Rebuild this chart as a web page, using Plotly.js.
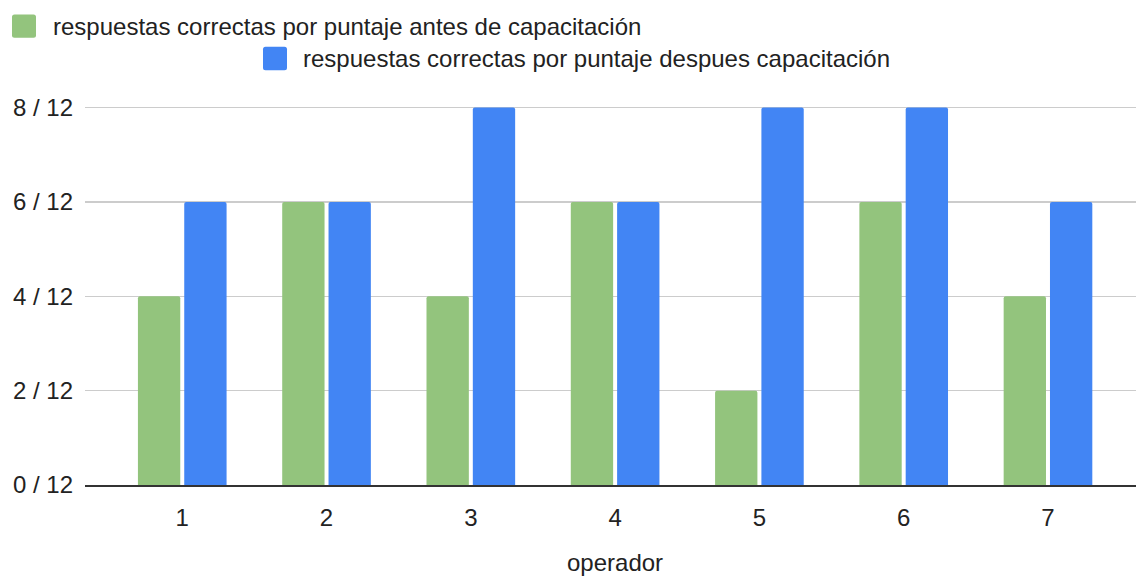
<!DOCTYPE html>
<html>
<head>
<meta charset="utf-8">
<script src="https://cdn.plot.ly/plotly-3.0.1.min.js"></script>
<style>
  html, body { margin: 0; padding: 0; background: #ffffff; }
  #chart { width: 1136px; height: 578px; }
</style>
</head>
<body>
<div id="chart"></div>
<script>
// Operators and their scores (out of 12) before and after the training
const operadores = ['1', '2', '3', '4', '5', '6', '7'];
const antes = [4, 6, 4, 6, 2, 6, 4];
const despues = [6, 6, 8, 6, 8, 8, 6];

const serieAntes = 'respuestas correctas por puntaje antes de capacitación';
const serieDespues = 'respuestas correctas por puntaje despues capacitación';
const tituloX = 'operador';

const yTickVals = [0, 2, 4, 6, 8];
const yTickText = ['0 / 12', '2 / 12', '4 / 12', '6 / 12', '8 / 12'];

const colorAntes = '#93c47d';
const colorDespues = '#4285f4';
const textColor = '#222222';
const FONT = '"Liberation Sans", Arial, Helvetica, sans-serif';

// plot area in page pixels
const W = 1136, H = 578;
const L = 85, R = 1136, T = 84.3, B = 484.7;
const px = x => (x - L) / (R - L);
const py = y => (B - y) / (B - T);

// rounded legend swatch as a paper-space path
function swatch(x0, y0, x1, y1, r, color) {
  const X = v => px(v).toFixed(5), Y = v => py(v).toFixed(5);
  const path = [
    'M', X(x0 + r), Y(y0),
    'L', X(x1 - r), Y(y0),
    'Q', X(x1), Y(y0), X(x1), Y(y0 + r),
    'L', X(x1), Y(y1 - r),
    'Q', X(x1), Y(y1), X(x1 - r), Y(y1),
    'L', X(x0 + r), Y(y1),
    'Q', X(x0), Y(y1), X(x0), Y(y1 - r),
    'L', X(x0), Y(y0 + r),
    'Q', X(x0), Y(y0), X(x0 + r), Y(y0), 'Z'
  ].join(' ');
  return {
    type: 'path', xref: 'paper', yref: 'paper', path: path,
    fillcolor: color, line: { width: 0 }, layer: 'above'
  };
}

function legendLabel(text, x, yMid) {
  return {
    xref: 'paper', yref: 'paper', x: px(x), y: py(yMid),
    xanchor: 'left', yanchor: 'middle', showarrow: false,
    text: text, borderpad: 0,
    font: { family: FONT, size: 24, color: textColor }
  };
}

const traces = [
  {
    type: 'bar', name: serieAntes, x: operadores, y: antes,
    marker: { color: colorAntes, cornerradius: 2, line: { width: 0 } },
    hoverinfo: 'x+y'
  },
  {
    type: 'bar', name: serieDespues, x: operadores, y: despues,
    marker: { color: colorDespues, cornerradius: 2, line: { width: 0 } },
    hoverinfo: 'x+y'
  }
];

const layout = {
  width: W, height: H,
  margin: { l: L, r: W - R, t: T, b: H - B, pad: 0 },
  paper_bgcolor: '#ffffff', plot_bgcolor: '#ffffff',
  font: { family: FONT, size: 24, color: textColor },
  showlegend: false,
  barmode: 'group',
  bargap: 0.358,
  bargroupgap: 0.086,
  xaxis: {
    type: 'category',
    range: [-0.674, 6.61],
    showgrid: false,
    showline: true, linecolor: '#333333', linewidth: 2,
    ticks: '', ticklabelstandoff: 10,
    tickfont: { family: FONT, size: 24, color: textColor },
    fixedrange: true
  },
  yaxis: {
    range: [0, 8.5],
    tickvals: yTickVals, ticktext: yTickText,
    showgrid: true, gridcolor: '#cccccc', gridwidth: 1.5,
    zeroline: false, showline: false,
    ticks: '', ticklabelstandoff: 11,
    tickfont: { family: FONT, size: 24, color: textColor },
    fixedrange: true
  },
  shapes: [
    swatch(12, 15, 36, 38, 2.5, colorAntes),
    swatch(263, 47, 287, 70.5, 2.5, colorDespues)
  ],
  annotations: [
    legendLabel(serieAntes, 52, 26.5),
    legendLabel(serieDespues, 302, 58.7),
    // x-axis title, centred under the middle operator (category index) near the bottom edge
    {
      xref: 'x', yref: 'paper', x: (operadores.length - 1) / 2, y: py(562),
      xanchor: 'center', yanchor: 'middle', showarrow: false,
      text: tituloX, borderpad: 0,
      font: { family: FONT, size: 24, color: textColor }
    }
  ]
};

Plotly.newPlot('chart', traces, layout, { displayModeBar: false, staticPlot: true });
</script>
</body>
</html>
